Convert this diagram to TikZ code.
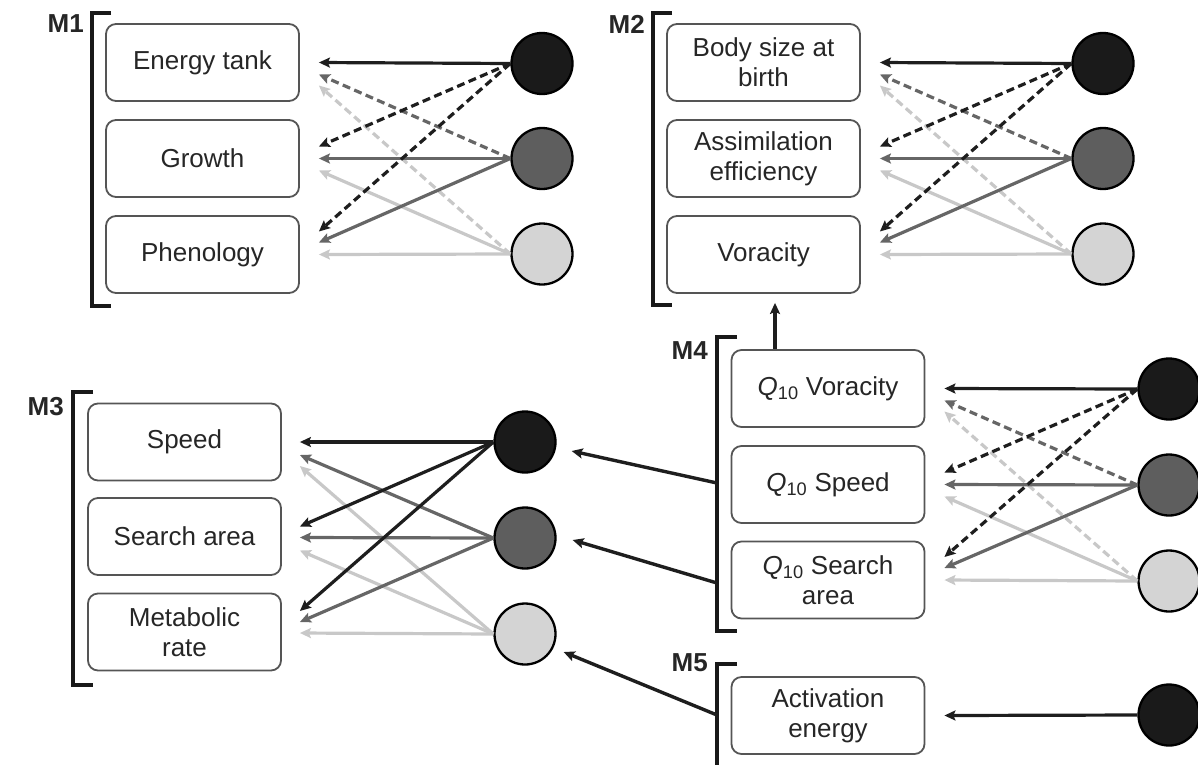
\documentclass[tikz,border=0pt]{standalone}
\usepackage{fontspec}
\setmainfont{Liberation Sans}
\usetikzlibrary{arrows.meta,calc}
\definecolor{kfill}{HTML}{1A1A1A}
\definecolor{gfill}{HTML}{5E5E5E}
\definecolor{lfill}{HTML}{D4D4D4}
\definecolor{karr}{HTML}{1E1E1E}
\definecolor{garr}{HTML}{666666}
\definecolor{larr}{HTML}{C8C8C8}
\definecolor{boxline}{HTML}{555555}
\definecolor{txt}{HTML}{262626}
\newcommand{\qten}{\textit{Q}\textsubscript{10}}
\begin{document}
\begin{tikzpicture}[x=1pt,y=-1pt,
  box/.style={draw=boxline, line width=1.8pt, rounded corners=10pt, minimum width=193pt, minimum height=77pt, align=center, inner sep=0pt, text=txt, font=\fontsize{26}{30}\selectfont},
  dot/.style={circle, draw=black, line width=2.3pt, minimum size=61pt, inner sep=0pt},
  kdot/.style={dot, fill=kfill},
  gdot/.style={dot, fill=gfill},
  ldot/.style={dot, fill=lfill},
  lab/.style={anchor=east, font=\fontsize{26}{30}\selectfont\bfseries, text=txt, inner sep=0pt},
  brk/.style={line width=3.6pt, draw=black!90},
  arr/.style={line width=3.2pt, -{Stealth[length=11pt,width=10pt,inset=2pt]}},
  ka/.style={arr, draw=karr},
  kad/.style={ka, dash pattern=on 8pt off 4.5pt},
  ga/.style={arr, draw=garr},
  gad/.style={ga, dash pattern=on 8pt off 4.5pt},
  la/.style={arr, draw=larr},
  lad/.style={la, dash pattern=on 8pt off 4.5pt},
  link/.style={line width=3.4pt, draw=karr, -{Stealth[length=11pt,width=10pt,inset=2pt]}}
]
\useasboundingbox (0,0) rectangle (1198,764);

% ---------- M1 ----------
\node[lab] (m1) at (84,24) {M1};
\draw[brk] (111,13) -- (92,13) -- (92,306) -- (111,306);
\node[box] (b1a) at (202.5,62.5) {Energy tank};
\node[box] (b1b) at (202.5,158.5) {Growth};
\node[box] (b1c) at (202.5,254.5) {Phenology};
\node[kdot] (c1a) at (542,63.5) {};
\node[gdot] (c1b) at (542,158.5) {};
\node[ldot] (c1c) at (542,254) {};

% ---------- M2 ----------
\node[lab] (m2) at (645,24) {M2};
\draw[brk] (672,13) -- (653,13) -- (653,305) -- (672,305);
\node[box] (b2a) at (763.5,62.5) {Body size at\\birth};
\node[box] (b2b) at (763.5,158.5) {Assimilation\\efficiency};
\node[box] (b2c) at (763.5,254.5) {Voracity};
\node[kdot] (c2a) at (1103,63.5) {};
\node[gdot] (c2b) at (1103,158.5) {};
\node[ldot] (c2c) at (1103,254) {};

% ---------- M3 ----------
\node[lab] (m3) at (64,407) {M3};
\draw[brk] (93,392) -- (73,392) -- (73,685) -- (93,685);
\node[box] (b3a) at (184.5,442) {Speed};
\node[box] (b3b) at (184.5,536.5) {Search area};
\node[box] (b3c) at (184.5,632) {Metabolic\\rate};
\node[kdot] (c3a) at (525,442) {};
\node[gdot] (c3b) at (525,538) {};
\node[ldot] (c3c) at (525,634) {};

% ---------- M4 ----------
\node[lab] (m4) at (708,351) {M4};
\draw[brk] (737,337) -- (717,337) -- (717,631) -- (737,631);
\node[box] (b4a) at (828,388.5) {\qten{} Voracity};
\node[box] (b4b) at (828,484.5) {\qten{} Speed};
\node[box] (b4c) at (828,580) {\qten{} Search\\area};
\node[kdot] (c4a) at (1169,389) {};
\node[gdot] (c4b) at (1169,485) {};
\node[ldot] (c4c) at (1169,581) {};

% ---------- M5 ----------
\node[lab] (m5) at (708,663) {M5};
\draw[brk] (737,664) -- (717,664) -- (717,770);
\node[box] (b5) at (828,715.5) {Activation\\energy};
\node[kdot] (c5) at (1169,715) {};

% ---------- arrows in M1, M2, M4 ----------
\foreach \p in {1,2,4}{
  \draw[lad] (c\p c.west) -- ($(b\p a.east)+(19,23)$);
  \draw[la]  (c\p c.west) -- ($(b\p b.east)+(19,12)$);
  \draw[la]  (c\p c.west) -- ($(b\p c.east)+(19,0)$);
  \draw[gad] (c\p b.west) -- ($(b\p a.east)+(19,12)$);
  \draw[ga]  (c\p b.west) -- ($(b\p b.east)+(19,0)$);
  \draw[ga]  (c\p b.west) -- ($(b\p c.east)+(19,-12)$);
  \draw[ka]  (c\p a.west) -- ($(b\p a.east)+(19,0)$);
  \draw[kad] (c\p a.west) -- ($(b\p b.east)+(19,-12)$);
  \draw[kad] (c\p a.west) -- ($(b\p c.east)+(19,-23)$);
}

% ---------- arrows in M3 ----------
\draw[la] (c3c.west) -- ($(b3a.east)+(18,24)$);
\draw[la] (c3c.west) -- ($(b3b.east)+(18,14)$);
\draw[la] (c3c.west) -- ($(b3c.east)+(18,1)$);
\draw[ga] (c3b.west) -- ($(b3a.east)+(18,13)$);
\draw[ga] (c3b.west) -- ($(b3b.east)+(18,1)$);
\draw[ga] (c3b.west) -- ($(b3c.east)+(18,-10)$);
\draw[ka] (c3a.west) -- ($(b3a.east)+(18,0)$);
\draw[ka] (c3a.west) -- ($(b3b.east)+(18,-10)$);
\draw[ka] (c3a.west) -- ($(b3c.east)+(18,-21)$);

% ---------- M5 arrow ----------
\draw[ka] (c5.west) -- ($(b5.east)+(19,0)$);

% ---------- links between panels ----------
\coordinate (j1) at (717,483);
\coordinate (j2) at (717,583);
\coordinate (j3) at (717,715);
\draw[link] (j1) -- ($(c3a.east)+(15,9)$);
\draw[link] (j2) -- ($(c3b.east)+(16,2)$);
\draw[link] (j3) -- ($(c3c.east)+(7,18)$);
\draw[link, shorten >=9pt] ([xshift=-53pt]b4a.north) -- ([xshift=-53pt]b4a.north |- b2c.south);
\end{tikzpicture}
\end{document}
